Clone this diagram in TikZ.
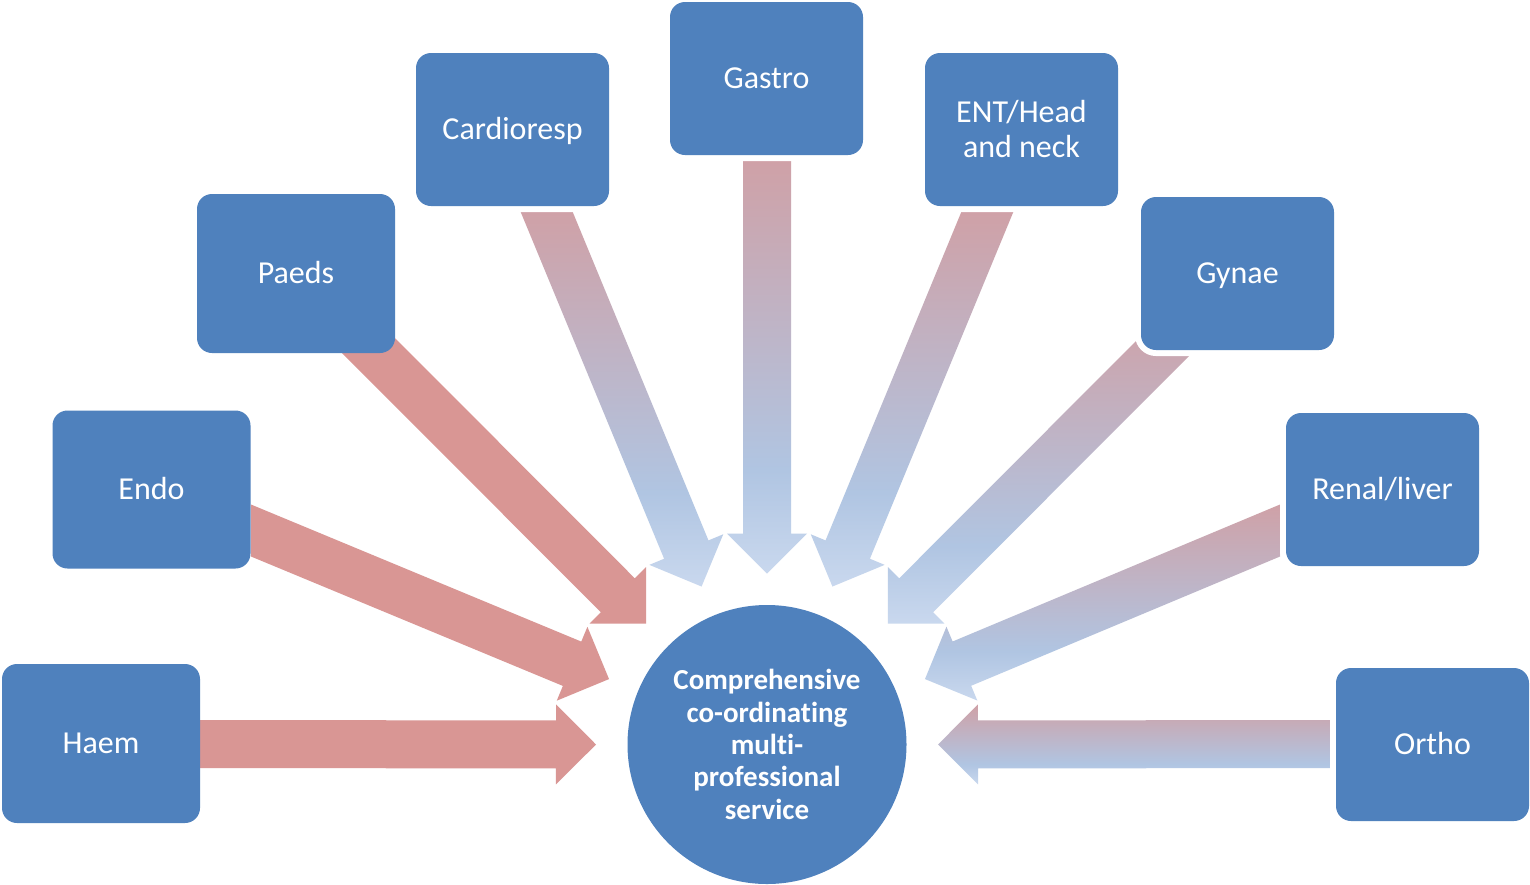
\documentclass[tikz,border=0pt]{standalone}
\usepackage{fontspec}
\setmainfont{Carlito}[Ligatures=NoCommon]
\usetikzlibrary{calc}

\definecolor{boxblue}{HTML}{4F81BD}
\definecolor{feedred}{HTML}{D99694}
\definecolor{gtop}{HTML}{CFA1A7}
\definecolor{gblue}{HTML}{B0C5E2}
\definecolor{gbot}{HTML}{C9D8EE}

% pink at the top of a shape, blue towards its lower end
\pgfdeclareverticalshading{pinkblue}{100bp}{color(0bp)=(gbot); color(25bp)=(gbot); color(37.5bp)=(gblue); color(75bp)=(gtop); color(100bp)=(gtop)}

\pgfdeclarelayer{bg}
\pgfsetlayers{bg,main}

% block arrow: #1 paint, #2 tail corner on the left-hand side, #3 other tail corner, #4 tip
\newcommand\feeder[4]{%
  \coordinate (fd-m) at ($(#2)!0.5!(#3)$);
  \coordinate (fd-h) at ($(#4)!40pt!(fd-m)$);
  \path[#1] (#2) -- ($(fd-h)!24pt!90:(#4)$) -- ($(fd-h)!40pt!90:(#4)$) -- (#4)
    -- ($(fd-h)!40pt!-90:(#4)$) -- ($(fd-h)!24pt!-90:(#4)$) -- (#3) -- cycle;
}

\tikzset{
  unit/.style={rounded corners=15pt, fill=boxblue, text=white, align=center,
    inner sep=0pt, outer sep=0pt, font=\fontsize{32}{35}\selectfont},
  oneline/.style={text height=20.6pt, text depth=0pt},
  redunit/.style={unit, oneline, minimum width=198pt, minimum height=158pt},
  blueunit/.style={unit, minimum width=193pt, minimum height=153pt,
    preaction={draw=white, line width=12pt}},
  hubstyle/.style={circle, fill=boxblue, text=white, align=center, inner sep=0pt,
    minimum size=279pt, font=\bfseries\fontsize{29}{32.3}\selectfont},
  redfeed/.style={fill=feedred},
  gradfeed/.style={shade, shading=pinkblue},
}

\begin{document}
\begin{tikzpicture}[x=1pt, y=-1pt]
  \begin{pgfonlayer}{bg}
    \fill[white] (0,0) rectangle (1530,884);
  \end{pgfonlayer}
  \useasboundingbox (0,0) rectangle (1530,884);

  % hub and specialty boxes
  \node[hubstyle] (hub) at (767,744.5) {Comprehensive\\co-ordinating\\multi-\\professional\\service};

  \node[redunit, minimum height=159pt] (haem) at (101,743.5) {Haem};
  \node[redunit] (endo) at (151.5,489.5) {Endo};
  \node[redunit, minimum height=159pt] (paeds) at (296,273.5) {Paeds};
  \node[blueunit, oneline] (cardio) at (512.5,129.5) {Cardioresp};
  \node[blueunit, oneline] (gastro) at (766.5,78.5) {Gastro};
  \node[blueunit] (ent) at (1021.5,129.5) {ENT/Head\\and neck};
  \node[blueunit, oneline] (gynae) at (1237.5,273.5) {Gynae};
  \node[blueunit, oneline] (renal) at (1382.5,489.5) {Renal/liver};
  \node[blueunit, oneline] (ortho) at (1432.5,744.5) {Ortho};

  % arrow tails
  \coordinate (haem-l) at (200,720);     \coordinate (haem-r) at (200,768);
  \coordinate (endo-l) at (251,504.5);   \coordinate (endo-r) at (251,556.5);
  \coordinate (paeds-l) at (370,313);    \coordinate (paeds-r) at (336,347);
  \coordinate (cardio-l) at (572.7,212); \coordinate (cardio-r) at (520.7,212);
  \coordinate (gastro-l) at (791,161);   \coordinate (gastro-r) at (743,161);
  \coordinate (ent-l) at (1013.3,212);   \coordinate (ent-r) at (961.3,212);
  \coordinate (gynae-l) at (1198,347);   \coordinate (gynae-r) at (1164,313);
  \coordinate (renal-l) at (1280,556.5); \coordinate (renal-r) at (1280,504.5);
  \coordinate (ortho-l) at (1331,768);   \coordinate (ortho-r) at (1331,720);

  % arrow tips on a ring round the hub
  \coordinate (haem-tip) at ($(hub.center)+(180:171pt)$);
  \coordinate (endo-tip) at ($(hub.center)+(157.5:171pt)$);
  \coordinate (paeds-tip) at ($(hub.center)+(135:171pt)$);
  \coordinate (cardio-tip) at ($(hub.center)+(112.5:171pt)$);
  \coordinate (gastro-tip) at ($(hub.center)+(90:171pt)$);
  \coordinate (ent-tip) at ($(hub.center)+(67.5:171pt)$);
  \coordinate (gynae-tip) at ($(hub.center)+(45:171pt)$);
  \coordinate (renal-tip) at ($(hub.center)+(22.5:171pt)$);
  \coordinate (ortho-tip) at ($(hub.center)+(0:171pt)$);

  \begin{pgfonlayer}{bg}
    \feeder{redfeed}{haem-l}{haem-r}{haem-tip}
    \feeder{redfeed}{endo-l}{endo-r}{endo-tip}
    \feeder{redfeed}{paeds-l}{paeds-r}{paeds-tip}
    \feeder{gradfeed}{cardio-l}{cardio-r}{cardio-tip}
    \feeder{gradfeed}{gastro-l}{gastro-r}{gastro-tip}
    \feeder{gradfeed}{ent-l}{ent-r}{ent-tip}
    \feeder{gradfeed}{gynae-l}{gynae-r}{gynae-tip}
    \feeder{gradfeed}{renal-l}{renal-r}{renal-tip}
    \feeder{gradfeed}{ortho-l}{ortho-r}{ortho-tip}
  \end{pgfonlayer}
\end{tikzpicture}
\end{document}
